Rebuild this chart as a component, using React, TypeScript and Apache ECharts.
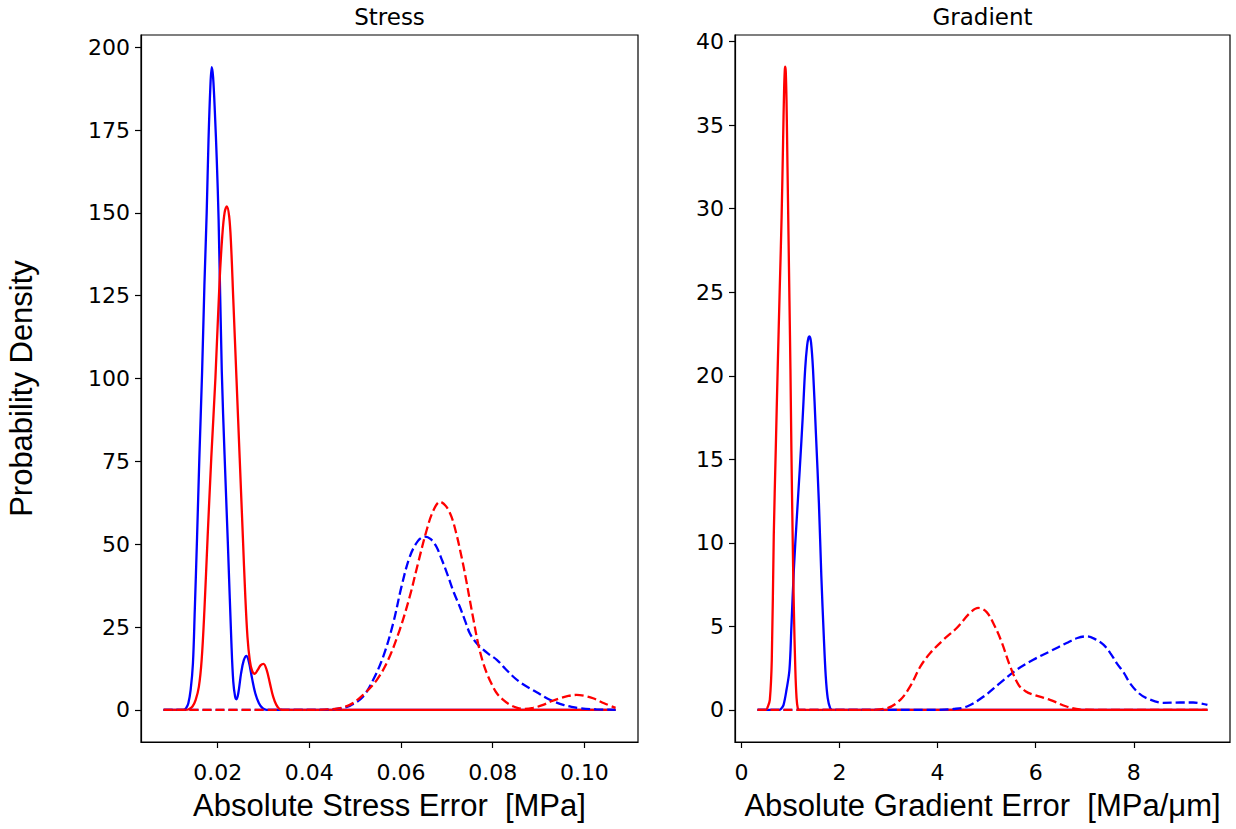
import React, { useEffect, useRef } from "react";
import * as echarts from "echarts";

// ---- tick labels ----
const stressXTicks = [0.02, 0.04, 0.06, 0.08, 0.1];
const stressYTicks = [0, 25, 50, 75, 100, 125, 150, 175, 200];
const gradXTicks = [0, 2, 4, 6, 8];
const gradYTicks = [0, 5, 10, 15, 20, 25, 30, 35, 40];

// ---- Stress panel (x: MPa, y: density) ----
const stressBlueSolid = [
  [0.0082, 0], [0.0125, 0], [0.0131, 0.5], [0.0136, 2], [0.0141, 6], [0.0146, 14],
  [0.015, 30], [0.0155, 52], [0.016, 76], [0.0166, 102], [0.0171, 128], [0.0176, 150],
  [0.018, 172], [0.0184, 188], [0.0187, 194], [0.019, 191], [0.0194, 180], [0.0198, 166],
  [0.0202, 148], [0.0209, 102], [0.0215, 77], [0.0222, 51], [0.023, 20], [0.0234, 8.5],
  [0.0238, 4], [0.0241, 3.2], [0.0245, 5], [0.0251, 11], [0.0257, 15], [0.0263, 16.3],
  [0.0268, 14.5], [0.0275, 9.5], [0.0282, 5], [0.029, 2], [0.0298, 0.5], [0.0307, 0],
  [0.1068, 0],
];
const stressRedSolid = [
  [0.0082, 0], [0.013, 0], [0.0137, 0.2], [0.0145, 1], [0.0152, 3], [0.0159, 7],
  [0.0165, 15], [0.0171, 30], [0.0178, 52], [0.0186, 76], [0.0195, 100], [0.0204, 129],
  [0.021, 143], [0.0215, 150], [0.022, 152], [0.0225, 149], [0.0229, 141], [0.0234, 124],
  [0.0241, 100], [0.0248, 76], [0.0255, 52], [0.026, 35], [0.0265, 22], [0.027, 15],
  [0.0275, 11.8], [0.0281, 10.9], [0.0287, 12], [0.0294, 13.5], [0.03, 13.9],
  [0.0307, 12], [0.0314, 8], [0.0321, 4], [0.0328, 1.5], [0.0335, 0.2], [0.0342, 0],
  [0.1068, 0],
];
const stressBlueDashed = [
  [0.0082, 0], [0.04, 0], [0.0445, 0.1], [0.0459, 0.3], [0.0488, 1.2], [0.0517, 4],
  [0.0539, 9], [0.0561, 16], [0.0583, 26.2], [0.0601, 37.2], [0.0619, 46.2],
  [0.0637, 51], [0.0652, 52.3], [0.0665, 51.5], [0.0677, 49.3], [0.069, 45],
  [0.0703, 40.2], [0.0715, 35.5], [0.0728, 31.2], [0.074, 26.8], [0.075, 23.1],
  [0.0761, 20.8], [0.0772, 19.1], [0.079, 17], [0.0809, 15.1], [0.0827, 12.5],
  [0.0845, 10], [0.0863, 8], [0.0881, 6.5], [0.09, 5], [0.0918, 3.5], [0.0936, 2.4],
  [0.0954, 1.5], [0.0972, 0.9], [0.099, 0.5], [0.1026, 0.15], [0.1068, 0],
];
const stressRedDashed = [
  [0.0082, 0], [0.04, 0], [0.045, 0.2], [0.0488, 1.5], [0.0517, 4.5], [0.0547, 9],
  [0.0572, 15.1], [0.0597, 24.1], [0.0619, 34.2], [0.0637, 44.2], [0.0656, 54.3],
  [0.067, 60], [0.0685, 62.8], [0.0698, 61.5], [0.071, 58.3], [0.0721, 53],
  [0.0732, 46.2], [0.0741, 40], [0.075, 33.2], [0.0759, 26.5], [0.0768, 20.1],
  [0.0777, 15.2], [0.0787, 11.1], [0.0798, 7.7], [0.0809, 5], [0.0823, 3],
  [0.0838, 1.5], [0.0852, 0.7], [0.0867, 0.3], [0.0888, 0.6], [0.091, 1.5],
  [0.0928, 2.6], [0.0947, 3.5], [0.0965, 4.2], [0.0983, 4.5], [0.1001, 4.2],
  [0.1019, 3.5], [0.1043, 2], [0.1068, 0.6],
];

// ---- Gradient panel (x: MPa/µm, y: density) ----
const gradRedSolid = [
  [0.33, 0], [0.5, 0], [0.54, 0.2], [0.58, 0.6], [0.62, 3], [0.66, 10.4], [0.7, 15.5],
  [0.74, 20.4], [0.78, 25], [0.82, 29.5], [0.85, 34], [0.87, 37], [0.885, 38.3],
  [0.895, 38.5], [0.905, 38.2], [0.92, 36.5], [0.94, 32.5], [0.96, 28.5], [0.98, 24.5],
  [1.0, 20.4], [1.02, 15.5], [1.045, 10.4], [1.07, 6], [1.1, 2.4], [1.125, 0.7],
  [1.15, 0.1], [1.18, 0], [9.5, 0],
];
const gradBlueSolid = [
  [0.33, 0], [0.78, 0], [0.82, 0.1], [0.86, 0.3], [0.92, 1.2], [0.98, 2.4], [1.02, 5],
  [1.07, 8.4], [1.13, 11.5], [1.19, 14.4], [1.25, 17.5], [1.3, 20.4], [1.34, 21.8],
  [1.37, 22.3], [1.39, 22.35], [1.42, 22], [1.46, 20.4], [1.52, 16.5], [1.58, 12.4],
  [1.63, 8], [1.68, 4.4], [1.72, 2], [1.76, 0.7], [1.81, 0.1], [1.86, 0], [9.5, 0],
];
const gradBlueDashed = [
  [0.33, 0], [4.0, 0], [4.32, 0.05], [4.6, 0.2], [4.94, 0.8], [5.27, 1.6], [5.61, 2.4],
  [5.95, 3.0], [6.29, 3.5], [6.63, 4.0], [6.85, 4.3], [7.04, 4.4], [7.2, 4.25],
  [7.38, 3.9], [7.52, 3.4], [7.65, 2.8], [7.8, 2.2], [7.92, 1.6], [8.1, 1.0],
  [8.26, 0.7], [8.6, 0.42], [8.94, 0.44], [9.21, 0.44], [9.5, 0.3],
];
const gradRedDashed = [
  [0.33, 0], [2.6, 0], [2.97, 0.1], [3.24, 0.6], [3.44, 1.4], [3.65, 2.6], [3.85, 3.4],
  [4.12, 4.2], [4.39, 4.9], [4.66, 5.8], [4.83, 6.1], [5.0, 5.85], [5.15, 5.1],
  [5.3, 4.1], [5.48, 2.6], [5.65, 1.5], [5.8, 1.1], [5.96, 0.9], [6.29, 0.6],
  [6.63, 0.2], [6.9, 0.02], [7.3, 0], [9.5, 0],
];

const TICK_FONT = "DejaVu Sans";
const LABEL_FONT = "Liberation Sans";
const BLUE = "#0000ff";
const RED = "#ff0000";

function makeX(gridIndex: number, min: number, max: number, ticks: number[], fmt: (v: number) => string, name: string) {
  return {
    type: "value",
    gridIndex,
    min,
    max,
    splitLine: { show: false },
    axisLine: { show: true, onZero: false, lineStyle: { color: "#000", width: 1.2 } },
    axisTick: { show: true, length: 6, customValues: ticks, lineStyle: { color: "#000", width: 1.2 } },
    axisLabel: {
      customValues: ticks,
      formatter: (v: number) => fmt(v),
      fontSize: 22,
      fontFamily: TICK_FONT,
      color: "#000",
      margin: 19,
    },
    name,
    nameLocation: "middle",
    nameGap: 48,
    nameTextStyle: { fontSize: 31, fontFamily: LABEL_FONT, color: "#000" },
  };
}

function makeY(gridIndex: number, min: number, max: number, ticks: number[], name: string) {
  return {
    type: "value",
    gridIndex,
    min,
    max,
    splitLine: { show: false },
    axisLine: { show: true, onZero: false, lineStyle: { color: "#000", width: 1.2 } },
    axisTick: { show: true, length: 6, customValues: ticks, lineStyle: { color: "#000", width: 1.2 } },
    axisLabel: {
      customValues: ticks,
      formatter: (v: number) => String(v),
      fontSize: 22,
      fontFamily: TICK_FONT,
      color: "#000",
      margin: 11,
    },
    name,
    nameLocation: "middle",
    nameGap: 104,
    nameRotate: 90,
    nameTextStyle: { fontSize: 31, fontFamily: LABEL_FONT, color: "#000" },
  };
}

function line(data: number[][], xi: number, color: string, dashed: boolean) {
  return {
    type: "line",
    xAxisIndex: xi,
    yAxisIndex: xi,
    data,
    symbol: "none",
    showSymbol: false,
    smooth: 0.35,
    silent: true,
    lineStyle: { color, width: 2.3, type: dashed ? [9, 4] : "solid" },
    itemStyle: { color },
  };
}

export default function App() {
  const ref = useRef<HTMLDivElement>(null);
  useEffect(() => {
    if (!ref.current) return;
    const chart = echarts.init(ref.current, undefined, { renderer: "svg" });
    chart.setOption({
      animation: false,
      backgroundColor: "#fff",
      grid: [
        { left: 141, top: 35, width: 497, height: 707, show: true, borderColor: "#000", borderWidth: 1.2, backgroundColor: "transparent" },
        { left: 735, top: 35, width: 495, height: 707, show: true, borderColor: "#000", borderWidth: 1.2, backgroundColor: "transparent" },
      ],
      xAxis: [
        makeX(0, 0.00327, 0.1117, stressXTicks, (v) => v.toFixed(2), "Absolute Stress Error  [MPa]"),
        makeX(1, -0.13, 9.96, gradXTicks, (v) => String(v), "Absolute Gradient Error  [MPa/\u03bcm]"),
      ],
      yAxis: [
        makeY(0, -9.7, 203.7, stressYTicks, "Probability Density"),
        makeY(1, -1.925, 40.4, gradYTicks, ""),
      ],
      graphic: [
        { type: "text", x: 389.5, y: 17, style: { text: "Stress", fontSize: 23, fontFamily: TICK_FONT, fill: "#000", align: "center", verticalAlign: "middle" } },
        { type: "text", x: 982.5, y: 17, style: { text: "Gradient", fontSize: 23, fontFamily: TICK_FONT, fill: "#000", align: "center", verticalAlign: "middle" } },
      ],
      series: [
        line(stressBlueSolid, 0, BLUE, false),
        line(stressRedSolid, 0, RED, false),
        line(stressBlueDashed, 0, BLUE, true),
        line(stressRedDashed, 0, RED, true),
        line(gradBlueSolid, 1, BLUE, false),
        line(gradRedSolid, 1, RED, false),
        line(gradBlueDashed, 1, BLUE, true),
        line(gradRedDashed, 1, RED, true),
      ],
    });
    return () => chart.dispose();
  }, []);
  return (
    <div style={{ position: "fixed", left: 0, top: 0, width: 1236, height: 829, background: "#fff" }}>
      <div ref={ref} style={{ width: 1236, height: 829 }} />
    </div>
  );
}
